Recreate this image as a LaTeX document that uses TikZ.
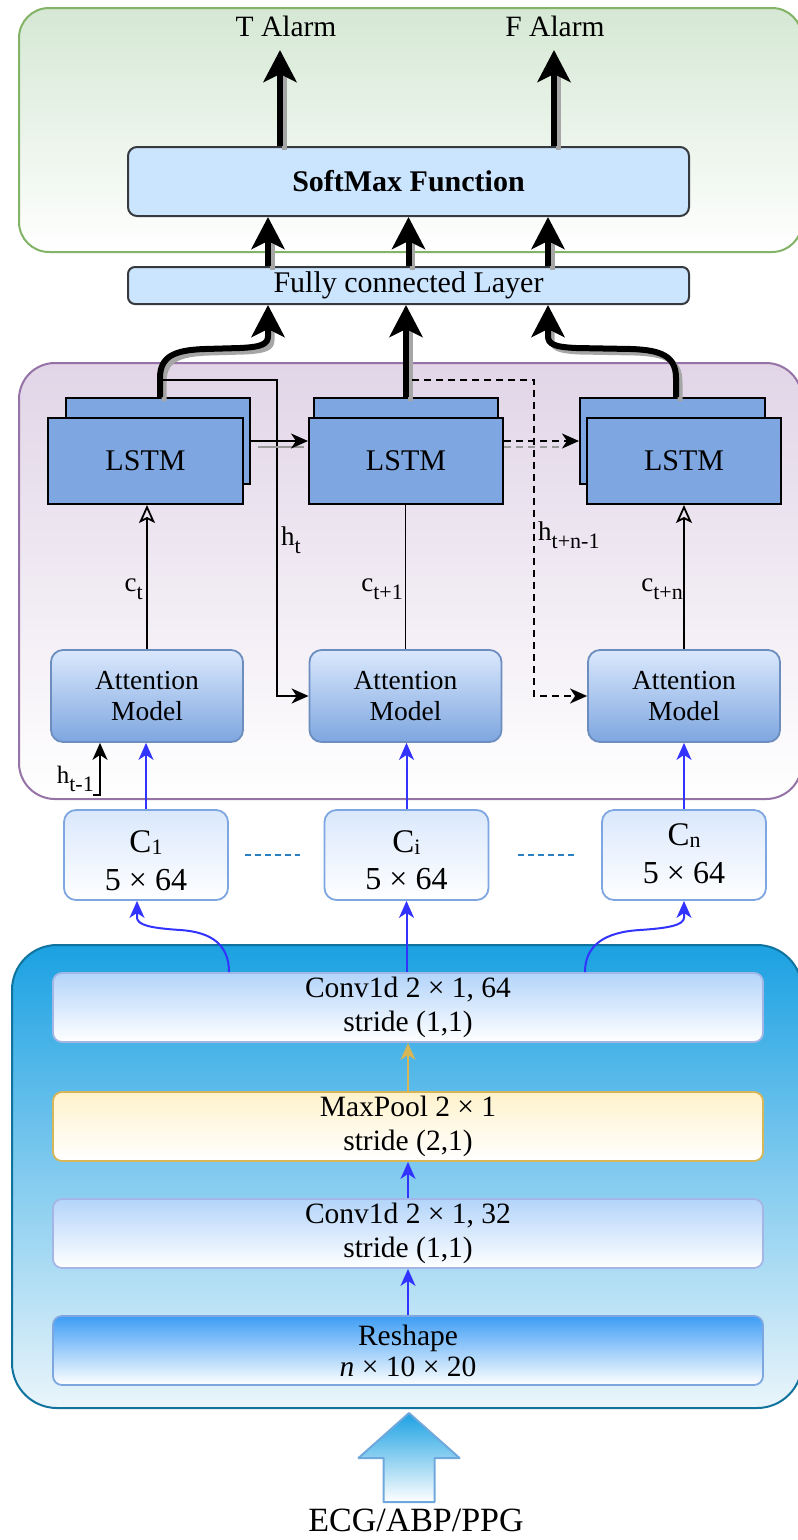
\documentclass[tikz,border=0pt]{standalone}
\usepackage{fontspec}
\setmainfont{Liberation Serif}
\usetikzlibrary{arrows.meta,calc}
\definecolor{greenbd}{HTML}{82B366}
\definecolor{greentop}{HTML}{D5E8D4}
\definecolor{purpbd}{HTML}{9673A6}
\definecolor{purptop}{HTML}{E1D5E7}
\definecolor{smfill}{HTML}{CCE5FF}
\definecolor{smbd}{HTML}{36393D}
\definecolor{lstmfill}{HTML}{7EA6E0}
\definecolor{atttop}{HTML}{DAE8FC}
\definecolor{attbot}{HTML}{7EA6E0}
\definecolor{attbd}{HTML}{6C8EBF}
\definecolor{cbd}{HTML}{7EA6E0}
\definecolor{convbd}{HTML}{A4B6E6}
\definecolor{bigtop}{HTML}{1BA1E2}
\definecolor{bigbot}{HTML}{EAF5FB}
\definecolor{bigbd}{HTML}{10739E}
\definecolor{convtop}{HTML}{B3D4FA}
\definecolor{pooltop}{HTML}{FFF2CC}
\definecolor{poolbd}{HTML}{D6B656}
\definecolor{reshtop}{HTML}{3D9DF5}
\definecolor{arrblue}{HTML}{3333FF}
\definecolor{dotblue}{HTML}{2A7FC0}
\definecolor{arrbd}{HTML}{6FA8DC}
\newcommand{\lsub}[1]{\raisebox{-0.33em}{\fontsize{22}{24}\selectfont #1}}
\newcommand{\csub}[1]{\raisebox{-2pt}{\fontsize{22}{24}\selectfont #1}}
\begin{document}
\begin{tikzpicture}[x=1pt,y=-1pt,
  every node/.style={inner sep=0pt, font=\fontsize{29.5}{34}\selectfont},
  bigarrow/.style={line width=6pt, -{Stealth[length=32pt,width=33pt,inset=8pt]}},
  bigshadow/.style={line width=5pt, draw=black!35},
  thinarr/.style={line width=1.8pt, -{Stealth[length=17pt,width=15pt,inset=5pt]}},
  openarr/.style={line width=1.8pt, -{Stealth[open,length=18pt,width=16pt,inset=4pt]}},
  bluearr/.style={draw=arrblue, line width=2pt, -{Stealth[length=17pt,width=15pt,inset=5pt]}},
  goldarr/.style={draw=poolbd, line width=2pt, -{Stealth[length=17pt,width=15pt,inset=5pt]}},
  dashline/.style={line width=1.8pt, dash pattern=on 7pt off 5pt},
  lstmbox/.style={draw=black, line width=2pt, fill=lstmfill, font=\fontsize{30}{34}\selectfont},
  attbox/.style={draw=attbd, line width=1.8pt, top color=atttop, bottom color=attbot, rounded corners=12pt, minimum width=192pt, minimum height=92pt, align=center, font=\fontsize{27.5}{31}\selectfont},
  cbox/.style={draw=cbd, line width=1.8pt, top color=atttop, bottom color=white, rounded corners=12pt, minimum width=164pt, minimum height=90pt},
  ctxt/.style={anchor=base, font=\fontsize{33}{36}\selectfont},
  dtxt/.style={anchor=base, font=\fontsize{32}{36}\selectfont},
  convbox/.style={draw=convbd, line width=1.8pt, top color=convtop, bottom color=white, rounded corners=9pt, minimum width=710pt, minimum height=69pt, align=center, font=\fontsize{29.5}{34}\selectfont},
  lbl/.style={font=\fontsize{27}{30}\selectfont}
]
\clip (0,0) rectangle (798,1540);
\fill[white] (0,0) rectangle (798,1540);

% containers
\node[draw=greenbd, line width=2pt, top color=greentop, bottom color=white, rounded corners=30pt, minimum width=783pt, minimum height=244pt] (gbox) at (410.5,130) {};
\node[draw=purpbd, line width=2pt, top color=purptop, bottom color=white, rounded corners=36pt, minimum width=783pt, minimum height=436pt] (pbox) at (410.5,581) {};
\node[draw=bigbd, line width=2pt, top color=bigtop, bottom color=bigbot, rounded corners=45pt, minimum width=790pt, minimum height=463pt] (bbox) at (407,1176.5) {};

% top part
\node[anchor=base] (talarm) at (286,36) {T Alarm};
\node[anchor=base] (falarm) at (555,36) {F Alarm};
\coordinate (ttip) at (280,50);
\coordinate (ftip) at (554,50);
\node[draw=smbd, line width=2pt, fill=smfill, rounded corners=9pt, minimum width=561pt, minimum height=69pt, font=\bfseries\fontsize{30}{34}\selectfont] (sm) at (408.5,181.5) {SoftMax Function};
\node[draw=smbd, line width=2pt, fill=smfill, rounded corners=7pt, minimum width=561pt, minimum height=37pt, font=\fontsize{30}{34}\selectfont] (fc) at (408.5,285.5) {Fully connected Layer};

% LSTMs
\node[lstmbox, minimum width=184pt, minimum height=86pt] (l1b) at (158,441) {};
\node[lstmbox, minimum width=195pt, minimum height=86pt] (l1f) at (145.5,461) {LSTM};
\node[lstmbox, minimum width=184pt, minimum height=86pt] (l2b) at (406,441) {};
\node[lstmbox, minimum width=194pt, minimum height=86pt] (l2f) at (406,461) {LSTM};
\node[lstmbox, minimum width=185pt, minimum height=86pt] (l3b) at (672.5,441) {};
\node[lstmbox, minimum width=194pt, minimum height=86pt] (l3f) at (684,461) {LSTM};

% attention
\node[attbox] (att1) at (147,696) {Attention\\Model};
\node[attbox] (att2) at (405.5,696) {Attention\\Model};
\node[attbox] (att3) at (684,696) {Attention\\Model};

% C boxes
\node[cbox] (c1) at (146,855) {};
\node[cbox] (ci) at (406.5,855) {};
\node[cbox] (cn) at (684,855) {};
\node[ctxt] (c1a) at (146,852) {C\csub{1}};
\node[dtxt] (c1b) at (146,890) {5 × 64};
\node[ctxt] (cia) at (406.5,852) {C\csub{i}};
\node[dtxt] (cib) at (406.5,889) {5 × 64};
\node[ctxt] (cna) at (684,845) {C\csub{n}};
\node[dtxt] (cnb) at (684,883) {5 × 64};

% CNN boxes
\node[convbox] (conv64) at (408,1007.5) {Conv1d 2 × 1, 64\\stride (1,1)};
\node[convbox, draw=poolbd, top color=pooltop] (pool) at (408,1126.5) {MaxPool 2 × 1\\stride (2,1)};
\node[convbox] (conv32) at (408,1233.5) {Conv1d 2 × 1, 32\\stride (1,1)};
\node[convbox, draw=cbd, top color=reshtop, bottom color=white] (resh) at (408,1350.5) {Reshape\\[-3pt]\textit{n} × 10 × 20};

% input arrow
\draw[draw=arrbd, line width=2pt, line join=round, top color=bigtop, bottom color=white]
  (409,1413) -- (459.5,1458) -- (434.5,1458) -- (434.5,1502) -- (383.5,1502) -- (383.5,1458) -- (358.5,1458) -- cycle;
\node[anchor=base, font=\fontsize{34}{38}\selectfont] (ecg) at (416,1531) {ECG/ABP/PPG};

% thick arrows: shadows
\draw[bigshadow] ([shift={(4pt,-4pt)}]$(sm.north)+(-128.5,0)$) -- ([shift={(4pt,-20pt)}]ttip);
\draw[bigshadow] ([shift={(4pt,-4pt)}]$(sm.north)+(145.5,0)$) -- ([shift={(4pt,-20pt)}]ftip);
\draw[bigshadow] ([shift={(4pt,-4pt)}]$(fc.north)+(-140.5,0)$) -- ([shift={(4pt,-20pt)}]$(sm.south)+(-140.5,0)$);
\draw[bigshadow] ([shift={(4pt,-4pt)}]fc.north) -- ([shift={(4pt,-20pt)}]sm.south);
\draw[bigshadow] ([shift={(4pt,-4pt)}]$(fc.north)+(139.5,0)$) -- ([shift={(4pt,-20pt)}]$(sm.south)+(139.5,0)$);
\draw[bigshadow] ([shift={(4pt,-4pt)}]l2b.north) -- ([shift={(4pt,-20pt)}]l2b.north |- fc.south);
\draw[bigshadow] ([shift={(6pt,-4pt)}]l1b.north) -- (164,382) .. controls (164,360) and (179,354) .. (209,353) -- (244,352) .. controls (266,351) and (272,348) .. (272,340) -- (272,326);
\draw[bigshadow] ([shift={(7.5pt,-4pt)}]l3b.north) -- (680,382) .. controls (680,360) and (665,354) .. (635,353) -- (580,352) .. controls (558,351) and (552,348) .. (552,340) -- (552,326);

% thick arrows
\draw[bigarrow] ($(sm.north)+(-128.5,0)$) -- (ttip);
\draw[bigarrow] ($(sm.north)+(145.5,0)$) -- (ftip);
\draw[bigarrow] ($(fc.north)+(-140.5,0)$) -- ($(sm.south)+(-140.5,0)$);
\draw[bigarrow] (fc.north) -- (sm.south);
\draw[bigarrow] ($(fc.north)+(139.5,0)$) -- ($(sm.south)+(139.5,0)$);
\draw[bigarrow] (l2b.north) -- (l2b.north |- fc.south);
\draw[bigarrow] ([xshift=2pt]l1b.north) -- (160,378) .. controls (160,356) and (175,350) .. (205,349) -- (240,348) .. controls (262,347) and (268,344) .. (268,336) -- ($(fc.south)+(-140.5,0)$);
\draw[bigarrow] ([xshift=3.5pt]l3b.north) -- (676,378) .. controls (676,356) and (661,350) .. (631,349) -- (576,348) .. controls (554,347) and (548,344) .. (548,336) -- ($(fc.south)+(139.5,0)$);

% recurrent connections
\coordinate (hts) at (160,380);
\coordinate (hns) at (412,380);
\draw[thinarr] (hts) -- (277,380) |- (att2.west);
\draw[thinarr, dashline] (hns) -- (534,380) |- (att3.west);
\draw[draw=black!40, line width=1.8pt] ([shift={(7pt,-6pt)}]l1b.east) -- ([shift={(-4pt,-6pt)}]l1b.east -| l2f.west);
\draw[thinarr] (l1b.east) -- (l1b.east -| l2f.west);
\draw[draw=black!40, line width=1.8pt, dash pattern=on 7pt off 5pt] ([yshift=-6pt]l1b.east -| l2f.east) -- ([shift={(-20pt,-6pt)}]l1b.east -| l3b.west);
\draw[thinarr, dashline] (l1b.east -| l2f.east) -- (l1b.east -| l3b.west);

% context arrows
\draw[openarr] (att1.north) -- (att1.north |- l1f.south);
\draw[line width=1.8pt] (att2.north) -- (att2.north |- l2f.south);
\draw[openarr] (att3.north) -- (att3.north |- l3f.south);
\node[lbl, anchor=base east] (lct) at (143,591) {c\lsub{t}};
\node[lbl, anchor=base east] (lct1) at (403,591) {c\lsub{t+1}};
\node[lbl, anchor=base east] (lctn) at (683,591) {c\lsub{t+n}};
\node[lbl, anchor=base west] (lht) at (281,545) {h\lsub{t}};
\node[lbl, anchor=base west] (lhtn) at (538,540) {h\lsub{t+n-1}};
\node[lbl, anchor=base east, font=\fontsize{25}{28}\selectfont] (lhm) at (94,783) {h\lsub{t-1}};
\coordinate (hm) at (93,795);
\draw[thinarr] (hm) -| ([xshift=-47pt]att1.south);

% C to attention
\draw[bluearr] (c1.north) -- (c1.north |- att1.south);
\draw[bluearr] (ci.north) -- (ci.north |- att2.south);
\draw[bluearr] (cn.north -| att3.south) -- (att3.south);
\draw[draw=dotblue, line width=2pt, dash pattern=on 6pt off 4pt] ([xshift=16pt]c1.east) -- ([xshift=-24pt]ci.west);
\draw[draw=dotblue, line width=2pt, dash pattern=on 6pt off 4pt] ([xshift=29pt]ci.east) -- ([xshift=-27pt]cn.west);

% CNN to C
\draw[bluearr] ([xshift=-179pt]conv64.north) .. controls (229,945) and (212,932) .. (180,930) .. controls (150,928) and (138,925) .. (137,918) -- ([xshift=-9pt]c1.south);
\draw[bluearr] (conv64.north -| ci.south) -- (ci.south);
\draw[bluearr] ([xshift=177pt]conv64.north) .. controls (585,945) and (605,932) .. (640,930) .. controls (670,928) and (683,925) .. (684,918) -- (cn.south);

% CNN stack
\draw[goldarr] (pool.north) -- (conv64.south);
\draw[bluearr] (conv32.north) -- (pool.south);
\draw[bluearr] (resh.north) -- (conv32.south);
\end{tikzpicture}
\end{document}
